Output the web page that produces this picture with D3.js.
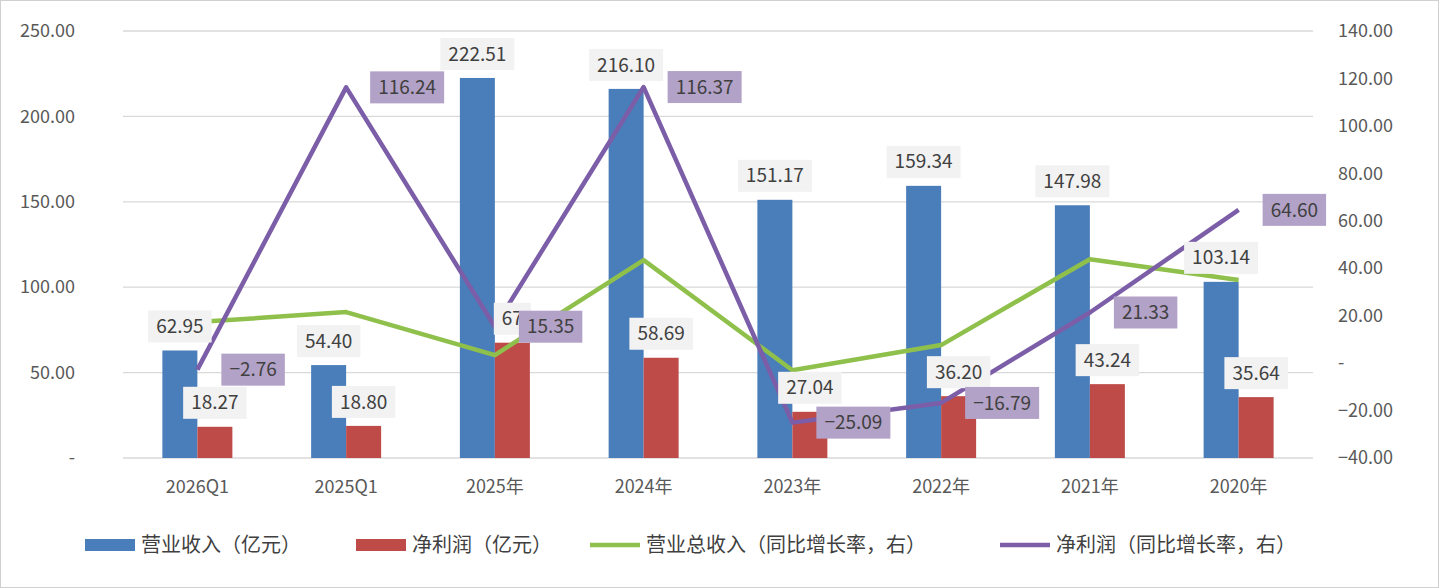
<!DOCTYPE html>
<html><head><meta charset="utf-8">
<script src="https://cdn.jsdelivr.net/npm/d3@7"></script>
<style>body{margin:0;background:#fff}svg{display:block}</style>
</head><body><svg id="chart"></svg>
<script>
const categories = ["2026Q1","2025Q1","2025年","2024年","2023年","2022年","2021年","2020年"];
const revenue = [62.95,54.40,222.51,216.10,151.17,159.34,147.98,103.14];
const profit = [18.27,18.80,67.50,58.69,27.04,36.20,43.24,35.64];
const revenueYoY = [17.3,21.5,3.4,43.4,-3.0,7.6,43.8,35.0];
const profitYoY = [-2.76,116.24,15.35,116.37,-25.09,-16.79,21.33,64.60];
const leftTicks = [0,50,100,150,200,250];
const rightTicks = [-40,-20,0,20,40,60,80,100,120,140];
const seriesNames = ["营业收入（亿元）","净利润（亿元）","营业总收入（同比增长率，右）","净利润（同比增长率，右）"];

const W = 1439, H = 588;
const font = "'Microsoft YaHei','Noto Sans CJK SC','Noto Sans',sans-serif";
const svg = d3.select("#chart").attr("width", W).attr("height", H).style("font-family", font);
svg.append("rect").attr("x",0.5).attr("y",0.5).attr("width",W-1).attr("height",H-1)
  .attr("fill","#fff").attr("stroke","#d0d0d0");

const x = d3.scaleBand().domain(categories).range([123, 1313]);
const yL = d3.scaleLinear().domain([0,250]).range([458,31]);
const yR = d3.scaleLinear().domain([-40,140]).range([458,31]);
const fmt = v => v === 0 ? "-" : d3.format(".2f")(v);

// gridlines
svg.append("g").selectAll("line").data(leftTicks).join("line")
  .attr("x1",123).attr("x2",1313).attr("y1",d=>yL(d)).attr("y2",d=>yL(d))
  .attr("stroke","#d9d9d9").attr("stroke-width",1.3);

// axes
const axL = svg.append("g").attr("transform","translate(123,0)")
  .call(d3.axisLeft(yL).tickValues(leftTicks).tickFormat(fmt).tickSize(0).tickPadding(30));
const axR = svg.append("g").attr("transform","translate(1313,0)")
  .call(d3.axisRight(yR).tickValues(rightTicks).tickFormat(fmt).tickSize(0).tickPadding(25));
const axB = svg.append("g").attr("transform","translate(0,458)")
  .call(d3.axisBottom(x).tickSize(0).tickPadding(22));
[axL,axR,axB].forEach(a=>{a.select(".domain").remove();
  a.selectAll("text").attr("fill","#595959").style("font-size","18px").style("font-family",font);});
axL.selectAll("text").attr("dx", -18);
axR.selectAll("text").attr("dx", 0);

const bw = 35, c = d => x(d) + x.bandwidth()/2;

svg.append("g").selectAll("rect").data(categories).join("rect")
  .attr("x",d=>c(d)-bw).attr("width",bw)
  .attr("y",(d,i)=>yL(revenue[i])).attr("height",(d,i)=>yL(0)-yL(revenue[i]))
  .attr("fill","#4a7ebb");
svg.append("g").selectAll("rect").data(categories).join("rect")
  .attr("x",d=>c(d)).attr("width",bw)
  .attr("y",(d,i)=>yL(profit[i])).attr("height",(d,i)=>yL(0)-yL(profit[i]))
  .attr("fill","#be4b48");

const line = arr => d3.line().x((d,i)=>c(categories[i])).y(d=>yR(d))(arr);
svg.append("path").attr("d",line(revenueYoY)).attr("fill","none")
  .attr("stroke","#8fc04c").attr("stroke-width",4.5).attr("stroke-linejoin","round");
svg.append("path").attr("d",line(profitYoY)).attr("fill","none")
  .attr("stroke","#7b5ea7").attr("stroke-width",4.5).attr("stroke-linejoin","round");

function label(cx, cy, text, fill, anchor) {
  const g = svg.append("g");
  const t = g.append("text").attr("y", cy).attr("dy","0.35em")
    .attr("fill","#404040").style("font-size","19px").text(text);
  const w = t.node().getComputedTextLength() + 16;
  const left = anchor === "left" ? cx : cx - w/2;
  t.attr("x", left + 8);
  g.insert("rect","text").attr("x",left).attr("y",cy-16).attr("width",w).attr("height",32).attr("fill",fill);
}
categories.forEach((d,i)=>label(c(d)-bw/2, yL(revenue[i])-24, fmt(revenue[i]), "#f2f2f2"));
categories.forEach((d,i)=>label(c(d)+bw/2, yL(profit[i])-24, i===2 ? "67" : fmt(profit[i]), "#f2f2f2"));
categories.forEach((d,i)=>label(c(d)+24, yR(profitYoY[i]), fmt(profitYoY[i]), "#b3a2c7", "left"));

// legend
const leg = svg.append("g").attr("transform","translate(0,545)");
const items = [
  {x:85, type:"rect", color:"#4a7ebb"},
  {x:356, type:"rect", color:"#be4b48"},
  {x:590, type:"line", color:"#8fc04c"},
  {x:1000, type:"line", color:"#7b5ea7"}
];
items.forEach((it,i)=>{
  if (it.type==="rect") leg.append("rect").attr("x",it.x).attr("y",-6).attr("width",50).attr("height",12).attr("fill",it.color);
  else leg.append("line").attr("x1",it.x).attr("x2",it.x+50).attr("y1",0).attr("y2",0).attr("stroke",it.color).attr("stroke-width",4.5);
  leg.append("text").attr("x",it.x+56).attr("dy","0.35em").attr("fill","#404040")
    .style("font-size","20px").text(seriesNames[i]);
});
</script></body></html>
